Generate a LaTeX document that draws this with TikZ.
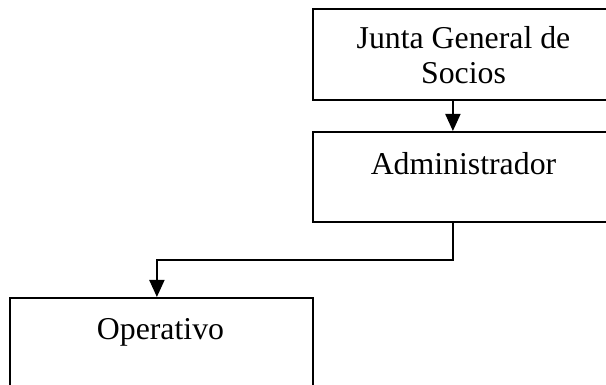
\documentclass[tikz,border=0pt]{standalone}
\usepackage{fontspec}
\setmainfont{Liberation Serif}
\usetikzlibrary{arrows.meta,positioning}

\tikzset{
    orgbox/.style={draw, line width=0.9pt, rectangle, minimum width=151.5pt, inner sep=0pt},
    orgtext/.style={anchor=base, align=center, font=\fontsize{15.9}{17.8}\selectfont, inner sep=0pt},
    conn/.style={line width=0.9pt, -{Triangle[length=8.5pt,width=7.5pt]}}
}

\begin{document}
\begin{tikzpicture}[x=0.5pt, y=-0.5pt]
        % Define picture frame (pixels of the reference, y downwards)
        \useasboundingbox (0,0) rectangle (606,385);
        \clip (0,0) rectangle (606,385);

        % Define boxes of the chart
        \node[orgbox, minimum height=45.5pt, anchor=north west] (junta) at (312,8) {};
        \node[orgbox, minimum height=45pt, anchor=north west] (admin) at (312,131) {};
        \node[orgbox, minimum height=50pt, anchor=north west] (oper) at (9,297) {};

        % Define box titles
        \node[orgtext] (juntatext) at (463.5,84) {Junta General de\\Socios};
        \node[orgtext] (admintext) at (463.5,175) {Administrador};
        \node[orgtext] (opertext) at (160.5,340) {Operativo};

        % Define connectors
        \draw[conn] ([xshift=-5.75pt]junta.south) -- ([xshift=-5.75pt]admin.north);
        \draw[conn] ([xshift=-5.75pt]admin.south) -- ++(0,-18.5pt) -| ([xshift=-2.25pt]oper.north);
    \end{tikzpicture}
\end{document}
